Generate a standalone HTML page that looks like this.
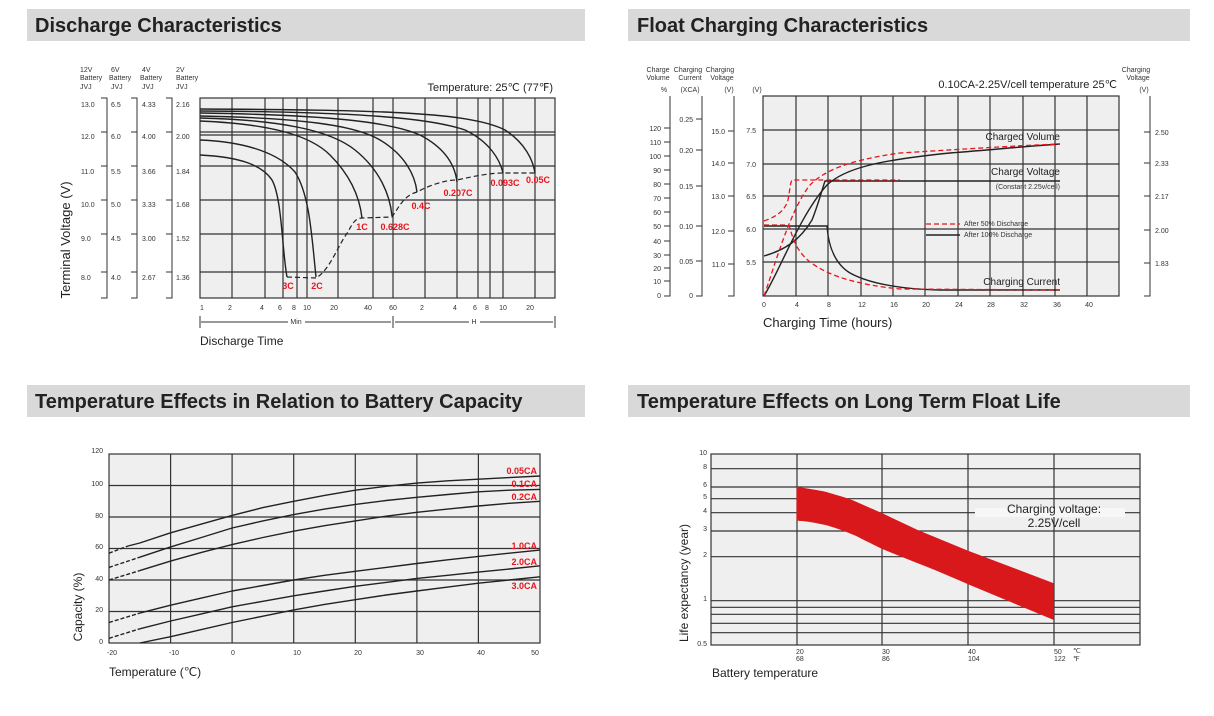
<!DOCTYPE html>
<html><head><meta charset="utf-8"><style>
html,body{margin:0;padding:0;background:#fff;}
svg{display:block;font-family:"Liberation Sans",Arial,sans-serif;}
.t{font-size:20px;font-weight:bold;fill:#222;}
.s{font-size:7px;fill:#333;}
.r{font-size:9px;font-weight:bold;fill:#e8141c;}
.g{stroke:#333;stroke-width:1.2;fill:none;}
.c{stroke:#222;stroke-width:1.4;fill:none;}
.cd{stroke:#222;stroke-width:1.2;fill:none;stroke-dasharray:5,3;}
.rd{stroke:#e8141c;stroke-width:1.3;fill:none;stroke-dasharray:5,3;}
</style></head><body>
<svg width="1214" height="716" viewBox="0 0 1214 716" xmlns="http://www.w3.org/2000/svg">
<rect x="27" y="9" width="558" height="32" fill="#d9d9d9"/>
<text x="35" y="32" class="t">Discharge Characteristics</text>
<rect x="628" y="9" width="562" height="32" fill="#d9d9d9"/>
<text x="637" y="32" class="t">Float Charging Characteristics</text>
<rect x="27" y="385" width="558" height="32" fill="#d9d9d9"/>
<text x="35" y="408" class="t">Temperature Effects in Relation to Battery Capacity</text>
<rect x="628" y="385" width="562" height="32" fill="#d9d9d9"/>
<text x="637" y="408" class="t">Temperature Effects on Long Term Float Life</text>

<!-- ===== Chart 1 Discharge ===== -->
<rect x="200" y="98" width="355" height="200" fill="#efefef"/>
<g class="g">
<rect x="200" y="98" width="355" height="200"/>
<line x1="200" y1="132" x2="555" y2="132"/><line x1="200" y1="135" x2="555" y2="135"/>
<line x1="200" y1="166" x2="555" y2="166"/><line x1="200" y1="200" x2="555" y2="200"/>
<line x1="200" y1="234" x2="555" y2="234"/><line x1="200" y1="272" x2="555" y2="272"/>
<line x1="232" y1="98" x2="232" y2="298"/><line x1="265" y1="98" x2="265" y2="298"/>
<line x1="283" y1="98" x2="283" y2="298"/><line x1="297" y1="98" x2="297" y2="298"/>
<line x1="307" y1="98" x2="307" y2="298"/><line x1="338" y1="98" x2="338" y2="298"/>
<line x1="373" y1="98" x2="373" y2="298"/><line x1="393" y1="98" x2="393" y2="298"/>
<line x1="425" y1="98" x2="425" y2="298"/><line x1="457" y1="98" x2="457" y2="298"/>
<line x1="478" y1="98" x2="478" y2="298"/><line x1="490" y1="98" x2="490" y2="298"/>
<line x1="503" y1="98" x2="503" y2="298"/><line x1="535" y1="98" x2="535" y2="298"/>
</g>
<g class="c">
<path d="M200,109 C380,110 470,112 505,130 C525,143 533,160 535,173"/>
<path d="M200,111 C360,112 430,118 465,130 C490,142 500,160 503,173"/>
<path d="M200,113 C330,115 390,122 420,135 C445,148 455,165 457,182"/>
<path d="M200,116 C300,118 355,125 380,140 C405,155 415,175 417,192"/>
<path d="M200,118 C280,120 330,130 355,150 C380,170 390,195 392,216"/>
<path d="M200,121 C270,124 310,135 330,155 C352,177 360,200 362,218"/>
<path d="M200,140 C250,142 280,155 295,172 C310,195 312,240 316,277"/>
<path d="M200,155 C240,157 262,165 272,180 C282,198 282,250 287,277"/>
</g>
<path class="cd" d="M287,277 L316,278 C330,270 338,245 348,232 C353,222 356,218 362,218 L392,217 C400,205 405,195 417,192 C430,185 445,180 457,180 C475,176 490,173 503,173 L535,173"/>
<g class="r" text-anchor="middle">
<text x="288" y="289">3C</text><text x="317" y="289">2C</text>
<text x="362" y="230">1C</text><text x="395" y="230">0.628C</text>
<text x="421" y="209">0.4C</text><text x="458" y="196">0.207C</text>
<text x="505" y="186">0.093C</text><text x="538" y="183">0.05C</text>
</g>
<g class="s">
<text x="80" y="72">12V</text><text x="80" y="80">Battery</text><text x="80" y="89">JVJ</text>
<text x="111" y="72">6V</text><text x="109" y="80">Battery</text><text x="111" y="89">JVJ</text>
<text x="142" y="72">4V</text><text x="140" y="80">Battery</text><text x="142" y="89">JVJ</text>
<text x="176" y="72">2V</text><text x="176" y="80">Battery</text><text x="176" y="89">JVJ</text>
<text x="81" y="107">13.0</text><text x="81" y="139">12.0</text><text x="81" y="174">11.0</text><text x="81" y="207">10.0</text><text x="81" y="241">9.0</text><text x="81" y="280">8.0</text>
<text x="111" y="107">6.5</text><text x="111" y="139">6.0</text><text x="111" y="174">5.5</text><text x="111" y="207">5.0</text><text x="111" y="241">4.5</text><text x="111" y="280">4.0</text>
<text x="142" y="107">4.33</text><text x="142" y="139">4.00</text><text x="142" y="174">3.66</text><text x="142" y="207">3.33</text><text x="142" y="241">3.00</text><text x="142" y="280">2.67</text>
<text x="176" y="107">2.16</text><text x="176" y="139">2.00</text><text x="176" y="174">1.84</text><text x="176" y="207">1.68</text><text x="176" y="241">1.52</text><text x="176" y="280">1.36</text>
</g>
<g stroke="#333" stroke-width="1" fill="none">
<path d="M101,98 H107 V298 H101 M101,132 H107 M101,166 H107 M101,200 H107 M101,234 H107 M101,272 H107"/>
<path d="M131,98 H137 V298 H131 M131,132 H137 M131,166 H137 M131,200 H137 M131,234 H137 M131,272 H137"/>
<path d="M166,98 H172 V298 H166 M166,132 H172 M166,166 H172 M166,200 H172 M166,234 H172 M166,272 H172"/>
</g>
<text transform="translate(70,240) rotate(-90)" font-size="13" fill="#222" text-anchor="middle">Terminal Voltage (V)</text>
<text x="553" y="91" font-size="11" fill="#222" text-anchor="end">Temperature: 25℃ (77℉)</text>
<g class="s" text-anchor="middle">
<text x="202" y="310">1</text><text x="230" y="310">2</text><text x="262" y="310">4</text><text x="280" y="310">6</text><text x="294" y="310">8</text><text x="307" y="310">10</text><text x="334" y="310">20</text><text x="368" y="310">40</text><text x="393" y="310">60</text><text x="422" y="310">2</text><text x="455" y="310">4</text><text x="475" y="310">6</text><text x="487" y="310">8</text><text x="503" y="310">10</text><text x="530" y="310">20</text>
<text x="296" y="324">Min</text><text x="474" y="324">H</text>
</g>
<g stroke="#333" stroke-width="1">
<line x1="200" y1="316" x2="200" y2="328"/><line x1="393" y1="316" x2="393" y2="328"/><line x1="555" y1="316" x2="555" y2="328"/>
<line x1="201" y1="322" x2="288" y2="322"/><line x1="305" y1="322" x2="391" y2="322"/>
<line x1="395" y1="322" x2="469" y2="322"/><line x1="480" y1="322" x2="553" y2="322"/>
</g>
<text x="200" y="345" font-size="12" fill="#222">Discharge Time</text>

<!-- ===== Chart 2 Float ===== -->
<rect x="763" y="96" width="356" height="200" fill="#efefef"/>
<g class="g">
<rect x="763" y="96" width="356" height="200"/>
<line x1="763" y1="130" x2="1119" y2="130"/><line x1="763" y1="164" x2="1119" y2="164"/>
<line x1="763" y1="196" x2="1119" y2="196"/><line x1="763" y1="229" x2="1119" y2="229"/>
<line x1="763" y1="262" x2="1119" y2="262"/>
<line x1="796" y1="96" x2="796" y2="296"/><line x1="828" y1="96" x2="828" y2="296"/>
<line x1="861" y1="96" x2="861" y2="296"/><line x1="893" y1="96" x2="893" y2="296"/>
<line x1="925" y1="96" x2="925" y2="296"/><line x1="958" y1="96" x2="958" y2="296"/>
<line x1="990" y1="96" x2="990" y2="296"/><line x1="1023" y1="96" x2="1023" y2="296"/>
<line x1="1055" y1="96" x2="1055" y2="296"/><line x1="1087" y1="96" x2="1087" y2="296"/>
</g>
<g class="c" stroke-width="1.2">
<path d="M764,296 C780,270 800,215 827,185 C845,168 880,160 950,153 C1000,149 1030,146 1060,144"/>
<path d="M764,256 C785,250 800,240 812,220 C818,205 822,190 825,181 L1060,181"/>
<path d="M764,226 L827,226 C828,240 832,262 850,273 C870,284 900,289 940,290 L1060,290"/>
<line x1="926" y1="235" x2="960" y2="235"/>
</g>
<g class="rd">
<path d="M764,296 C775,265 790,210 810,185 C825,170 850,160 900,153 C980,148 1030,145 1060,144"/>
<path d="M764,221 C778,216 785,210 788,200 C790,190 790,183 792,180 L900,180"/>
<path d="M764,225 L789,225 C792,235 795,250 810,262 C830,277 860,285 900,289 L1060,290"/>
<line x1="926" y1="224" x2="960" y2="224"/>
</g>
<g font-size="10" fill="#222" text-anchor="end">
<text x="1060" y="140">Charged Volume</text>
<text x="1060" y="175">Charge Voltage</text>
<text x="1060" y="285">Charging Current</text>
</g>
<text x="1060" y="189" class="s" font-size="6.5" text-anchor="end">(Constant 2.25v/cell)</text>
<text x="964" y="226" class="s" font-size="6.5">After  50% Discharge</text>
<text x="964" y="237" class="s" font-size="6.5">After 100% Discharge</text>
<text x="1117" y="88" font-size="11" fill="#222" text-anchor="end">0.10CA-2.25V/cell  temperature 25℃</text>
<g class="s" text-anchor="middle">
<text x="658" y="72">Charge</text><text x="658" y="80">Volume</text><text x="664" y="92">%</text>
<text x="688" y="72">Charging</text><text x="690" y="80">Current</text><text x="690" y="92">(XCA)</text>
<text x="720" y="72">Charging</text><text x="722" y="80">Voltage</text><text x="729" y="92">(V)</text>
<text x="757" y="92">(V)</text>
<text x="1136" y="72">Charging</text><text x="1138" y="80">Voltage</text><text x="1144" y="92">(V)</text>
</g>
<g stroke="#333" stroke-width="1" fill="none">
<path d="M670,96 V296 H664 M664,128 H670 M664,142 H670 M664,156 H670 M664,170 H670 M664,184 H670 M664,198 H670 M664,212 H670 M664,226 H670 M664,241 H670 M664,255 H670 M664,268 H670 M664,281 H670"/>
<path d="M702,96 V296 H696 M696,119 H702 M696,150 H702 M696,186 H702 M696,226 H702 M696,261 H702"/>
<path d="M734,96 V296 H728 M728,131 H734 M728,163 H734 M728,196 H734 M728,231 H734 M728,264 H734"/>
<path d="M1150,96 V296 H1144 M1144,132 H1150 M1144,163 H1150 M1144,196 H1150 M1144,230 H1150 M1144,263 H1150"/>
</g>
<g class="s" text-anchor="end">
<text x="661" y="131">120</text><text x="661" y="145">110</text><text x="661" y="159">100</text><text x="661" y="173">90</text><text x="661" y="187">80</text><text x="661" y="201">70</text><text x="661" y="215">60</text><text x="661" y="229">50</text><text x="661" y="244">40</text><text x="661" y="258">30</text><text x="661" y="271">20</text><text x="661" y="284">10</text><text x="661" y="298">0</text>
<text x="693" y="122">0.25</text><text x="693" y="153">0.20</text><text x="693" y="189">0.15</text><text x="693" y="229">0.10</text><text x="693" y="264">0.05</text><text x="693" y="298">0</text>
<text x="725" y="134">15.0</text><text x="725" y="166">14.0</text><text x="725" y="199">13.0</text><text x="725" y="234">12.0</text><text x="725" y="267">11.0</text>
<text x="756" y="133">7.5</text><text x="756" y="167">7.0</text><text x="756" y="199">6.5</text><text x="756" y="232">6.0</text><text x="756" y="265">5.5</text>
</g>
<g class="s">
<text x="1155" y="135">2.50</text><text x="1155" y="166">2.33</text><text x="1155" y="199">2.17</text><text x="1155" y="233">2.00</text><text x="1155" y="266">1.83</text>
</g>
<g class="s" text-anchor="middle">
<text x="764" y="307">0</text><text x="797" y="307">4</text><text x="829" y="307">8</text><text x="862" y="307">12</text><text x="894" y="307">16</text><text x="926" y="307">20</text><text x="959" y="307">24</text><text x="991" y="307">28</text><text x="1024" y="307">32</text><text x="1057" y="307">36</text><text x="1089" y="307">40</text>
</g>
<text x="763" y="327" font-size="13" fill="#222">Charging Time (hours)</text>

<!-- ===== Chart 3 Capacity ===== -->
<rect x="109" y="454" width="431" height="189" fill="#efefef"/>
<g class="g">
<rect x="109" y="454" width="431" height="189"/>
<line x1="109" y1="485.5" x2="540" y2="485.5"/><line x1="109" y1="517" x2="540" y2="517"/>
<line x1="109" y1="548.5" x2="540" y2="548.5"/><line x1="109" y1="580" x2="540" y2="580"/>
<line x1="109" y1="611.5" x2="540" y2="611.5"/>
<line x1="170.6" y1="454" x2="170.6" y2="643"/><line x1="232.1" y1="454" x2="232.1" y2="643"/>
<line x1="293.7" y1="454" x2="293.7" y2="643"/><line x1="355.3" y1="454" x2="355.3" y2="643"/>
<line x1="416.9" y1="454" x2="416.9" y2="643"/><line x1="478.4" y1="454" x2="478.4" y2="643"/>
</g>
<g class="c" stroke-width="1.6" stroke-linejoin="round">
<polyline points="128,546 139.8,543 170.6,532.8 201.4,524.1 232.1,515.4 262.9,507.6 293.7,501.3 324.5,495.4 355.3,490.2 386.1,486.3 416.9,483.1 447.7,480.8 478.4,479.2 509.2,477.6 540,476"/>
<polyline points="139.8,557.2 170.6,546.9 201.4,537.5 232.1,528 262.9,520.9 293.7,514.6 324.5,509.1 355.3,504.4 386.1,500.5 416.9,497.3 447.7,494.5 478.4,491.8 509.2,490.2 540,489.4"/>
<polyline points="139.8,570.6 170.6,561.1 201.4,552.4 232.1,544.6 262.9,537.5 293.7,531.2 324.5,525.7 355.3,520.9 386.1,516.2 416.9,512.3 447.7,509.1 478.4,506 509.2,503.3 540,501.3"/>
<polyline points="139.8,613.1 170.6,605.2 201.4,598.1 232.1,591 262.9,585.5 293.7,580 324.5,575.3 355.3,571.3 386.1,567.4 416.9,563.5 447.7,559.8 478.4,556.4 509.2,553.2 540,550.1"/>
<polyline points="139.8,628.8 170.6,621 201.4,613.9 232.1,606.8 262.9,601.3 293.7,595.8 324.5,591 355.3,586.3 386.1,582.4 416.9,578.4 447.7,575.3 478.4,572.1 509.2,569 540,565.8"/>
<polyline points="139.8,643 170.6,636.7 201.4,629.6 232.1,622.5 262.9,616.2 293.7,609.9 324.5,604.4 355.3,599.7 386.1,595 416.9,591 447.7,587.1 478.4,583.2 509.2,580 540,576.8"/>
</g>
<g class="c" stroke-width="1.4" stroke-dasharray="4,2">
<line x1="109" y1="553.2" x2="128" y2="546"/><line x1="109" y1="567.4" x2="139.8" y2="557.2"/><line x1="109" y1="580" x2="139.8" y2="570.6"/>
<line x1="109" y1="622.5" x2="139.8" y2="613.1"/><line x1="109" y1="638.3" x2="139.8" y2="628.8"/>
</g>
<g class="r" text-anchor="end">
<text x="537" y="474">0.05CA</text><text x="537" y="487">0.1CA</text><text x="537" y="500">0.2CA</text>
<text x="537" y="549">1.0CA</text><text x="537" y="565">2.0CA</text><text x="537" y="589">3.0CA</text>
</g>
<g class="s" text-anchor="end">
<text x="103" y="453">120</text><text x="103" y="486">100</text><text x="103" y="518">80</text><text x="103" y="549">60</text><text x="103" y="581">40</text><text x="103" y="612">20</text><text x="103" y="644">0</text>
</g>
<g class="s" text-anchor="middle">
<text x="112" y="655">-20</text><text x="174" y="655">-10</text><text x="233" y="655">0</text><text x="297" y="655">10</text><text x="358" y="655">20</text><text x="420" y="655">30</text><text x="481" y="655">40</text><text x="535" y="655">50</text>
</g>
<text x="109" y="676" font-size="12" fill="#222">Temperature (℃)</text>
<text transform="translate(82,607) rotate(-90)" font-size="12" fill="#222" text-anchor="middle">Capacity (%)</text>

<!-- ===== Chart 4 Life ===== -->
<rect x="711" y="454" width="429" height="191" fill="#efefef"/>
<g class="g">
<rect x="711" y="454" width="429" height="191"/>
<line x1="711" y1="468.7" x2="1140" y2="468.7"/><line x1="711" y1="487" x2="1140" y2="487"/>
<line x1="711" y1="498.7" x2="1140" y2="498.7"/><line x1="711" y1="512.7" x2="1140" y2="512.7"/>
<line x1="711" y1="531" x2="1140" y2="531"/><line x1="711" y1="556.7" x2="1140" y2="556.7"/>
<line x1="711" y1="600.7" x2="1140" y2="600.7"/><line x1="711" y1="607.3" x2="1140" y2="607.3"/>
<line x1="711" y1="614.3" x2="1140" y2="614.3"/><line x1="711" y1="623.3" x2="1140" y2="623.3"/>
<line x1="711" y1="632.7" x2="1140" y2="632.7"/>
<line x1="797" y1="454" x2="797" y2="645"/><line x1="882" y1="454" x2="882" y2="645"/>
<line x1="968" y1="454" x2="968" y2="645"/><line x1="1054" y1="454" x2="1054" y2="645"/>
</g>
<rect x="975" y="508" width="150" height="9" fill="#f7f7f7"/>
<path d="M796.5,486.7 C810,489 818,490 825.4,491.7 C840,496 848,498 856.2,501.7 C868,507 875,510 882.3,513.3 L917.7,530 L968.1,550.7 L1053.8,583.3 L1053.8,620 L968.1,584.3 C940,572 930,568 917.7,563.3 L882.3,549 C870,543 862,539 856.2,536 C842,530 833,527 825.4,525 C812,522 805,521 796.5,520.7 Z" fill="#d9181c"/>
<text x="1054" y="513" font-size="12" fill="#222" text-anchor="middle">Charging voltage:</text>
<text x="1054" y="527" font-size="12" fill="#222" text-anchor="middle">2.25V/cell</text>
<g class="s" text-anchor="end">
<text x="707" y="455">10</text><text x="707" y="469">8</text><text x="707" y="487">6</text><text x="707" y="499">5</text><text x="707" y="513">4</text><text x="707" y="531">3</text><text x="707" y="557">2</text><text x="707" y="601">1</text><text x="707" y="646">0.5</text>
</g>
<g class="s">
<text x="796" y="654">20</text><text x="796" y="661">68</text>
<text x="882" y="654">30</text><text x="882" y="661">86</text>
<text x="968" y="654">40</text><text x="968" y="661">104</text>
<text x="1054" y="654">50</text><text x="1054" y="661">122</text>
<text x="1073" y="653">℃</text><text x="1073" y="661">℉</text>
</g>
<text x="712" y="677" font-size="12" fill="#222">Battery temperature</text>
<text transform="translate(688,583) rotate(-90)" font-size="12" fill="#222" text-anchor="middle">Life expectancy (year)</text>
</svg>
</body></html>
